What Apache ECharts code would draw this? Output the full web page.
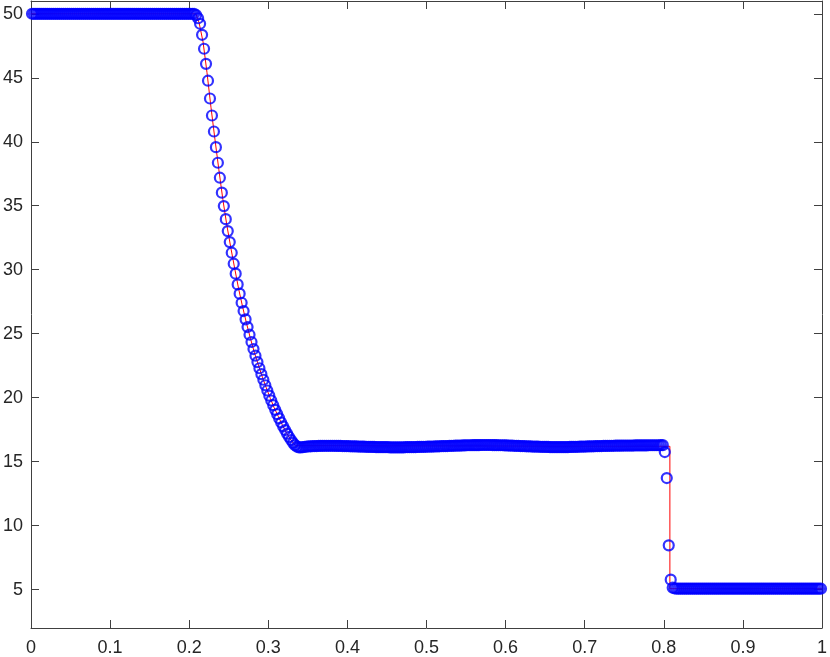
<!DOCTYPE html>
<html>
<head>
<meta charset="utf-8">
<script src="https://cdn.jsdelivr.net/npm/echarts@6/dist/echarts.min.js"></script>
<style>
html,body{margin:0;padding:0;background:#fff;}
#chart{width:830px;height:657px;}
</style>
</head>
<body>
<div id="chart"></div>
<script>
// ---- data ----
const gridCount = 400;          // number of cells (markers)
const xMin = 0, xMax = 1;
const yMin = 2, yMax = 51;
const xTicks = [0, 0.1, 0.2, 0.3, 0.4, 0.5, 0.6, 0.7, 0.8, 0.9, 1];
const yTicks = [5, 10, 15, 20, 25, 30, 35, 40, 45, 50];

// numerical solution (blue circles), one value per cell
const numericValues = [
50,50,50,50,50,50,50,50,50,50,
50,50,50,50,50,50,50,50,50,50,
50,50,50,50,50,50,50,50,50,50,
50,50,50,50,50,50,50,50,50,50,
50,50,50,50,50,50,50,50,50,50,
50,50,50,50,50,50,50,50,50,50,
50,50,50,50,50,50,50,50,50,50,
50,50,50,50,50,50,50,50,50,50,
50,50,50,49.9,49.65,
49.22,48.36,47.27,46.09,44.77,43.38,42.05,40.80,39.58,38.36,
37.19,36.02,34.97,33.95,33.02,32.16,31.33,30.47,29.69,28.85,
28.13,27.42,26.77,26.12,25.52,24.92,
24.35,23.80,23.28,22.78,22.30,21.84,21.40,20.97,20.56,20.16,
19.78,19.41,19.05,18.71,18.38,18.06,17.76,17.47,17.19,16.93,
16.69,16.47,16.29,16.17,
16.12,16.12,16.14,16.16,16.18,16.19,16.20,16.21,16.22,16.22,
16.23,16.23,16.24,16.24,16.24,16.24,16.24,16.24,
16.24,16.23,16.23,16.23,16.22,16.22,16.21,16.21,
16.20,16.20,16.19,16.19,16.18,16.18,16.17,16.17,
16.16,16.16,16.15,16.15,16.15,16.14,16.14,16.14,
16.13,16.13,16.13,16.13,16.12,16.12,16.12,16.12,
16.12,16.12,16.12,16.12,16.13,16.13,16.13,16.13,
16.14,16.14,16.15,16.15,16.15,16.16,16.16,16.17,
16.17,16.18,16.18,16.19,16.19,16.20,16.21,16.21,
16.22,16.22,16.23,16.24,16.24,16.25,16.25,16.26,
16.26,16.27,16.27,16.28,16.28,16.28,16.29,16.29,
16.29,16.29,16.30,16.30,16.30,16.30,16.30,16.30,
16.29,16.29,16.29,16.28,16.28,16.28,16.27,16.27,
16.26,16.26,16.25,16.24,16.24,16.23,16.22,16.22,
16.21,16.20,16.20,16.19,16.18,16.18,16.17,16.17,
16.16,16.16,16.15,16.15,16.15,16.14,16.14,16.14,
16.14,16.14,16.14,16.14,16.14,16.14,16.14,16.15,
16.15,16.15,16.16,16.16,16.17,16.17,16.18,16.18,
16.19,16.19,16.20,16.20,16.21,16.21,16.22,16.22,
16.23,16.23,16.23,16.24,16.24,16.24,16.25,16.25,
16.25,16.25,16.26,16.26,16.26,16.26,16.26,16.26,
16.27,16.27,16.27,16.27,16.27,16.27,16.27,16.28,
16.28,16.28,16.28,16.28,16.28,16.29,16.29,
15.75,13.72,8.46,5.78,5.15,5.09,
5.07,5.07,5.07,5.07,5.07,5.07,5.07,5.07,5.07,5.07,
5.07,5.07,5.07,5.07,5.07,5.07,5.07,5.07,5.07,5.07,
5.07,5.07,5.07,5.07,5.07,5.07,5.07,5.07,5.07,5.07,
5.07,5.07,5.07,5.07,5.07,5.07,5.07,5.07,5.07,5.07,
5.07,5.07,5.07,5.07,5.07,5.07,5.07,5.07,5.07,5.07,
5.07,5.07,5.07,5.07,5.07,5.07,5.07,5.07,5.07,5.07,
5.07,5.07,5.07,5.07,5.07,5.07,5.07,5.07,5.07,5.07,
5.07,5.07,5.07,5.07
];

// reference (exact) solution, red line
const exactX = [0, 0.2085, 0.2125, 0.2175, 0.2225, 0.2275, 0.2325, 0.2375, 0.2425, 0.2475,
  0.2525, 0.2575, 0.2625, 0.2675, 0.2725, 0.2775, 0.2825, 0.2875, 0.2925, 0.2975,
  0.3025, 0.3075, 0.3125, 0.3175, 0.3225, 0.3275, 0.3315, 0.3345, 0.3360, 0.8077, 0.8077, 1];
const exactY = [50, 50, 49.3, 47.8, 45.4, 42.7, 40.2, 37.8, 35.5, 33.5,
  31.75, 30.1, 28.5, 27.1, 25.8, 24.6, 23.5, 22.55, 21.6, 20.75,
  19.95, 19.2, 18.55, 17.9, 17.3, 16.8, 16.45, 16.25, 16.2, 16.2, 5.07, 5.07];

// ---- build series data ----
const numericData = numericValues.map((v, i) => [(i + 0.5) / gridCount, v]);
const exactData = exactX.map((x, i) => [x, exactY[i]]);

const axisColor = '#404040';
const textColor = '#262626';
const fontFamily = '"Liberation Sans", Arial, Helvetica, sans-serif';

const chart = echarts.init(document.getElementById('chart'), null, {renderer: 'canvas'});
const tickStyle = {show: true, inside: true, length: 8, lineStyle: {color: axisColor, width: 1}};
chart.setOption({
  animation: false,
  backgroundColor: '#ffffff',
  grid: {left: 31, right: 5, top: 1, bottom: 29, containLabel: false},
  xAxis: [{
    type: 'value', min: xMin, max: xMax, position: 'bottom',
    axisLine: {show: true, onZero: false, lineStyle: {color: axisColor, width: 1}},
    axisTick: Object.assign({customValues: xTicks}, tickStyle),
    axisLabel: {customValues: xTicks, color: textColor, fontSize: 18, fontFamily: fontFamily, margin: 11,
      formatter: v => String(v)},
    splitLine: {show: false}
  }, {
    type: 'value', min: xMin, max: xMax, position: 'top',
    axisLine: {show: true, onZero: false, lineStyle: {color: axisColor, width: 1}},
    axisTick: Object.assign({customValues: xTicks}, tickStyle),
    axisLabel: {show: false},
    splitLine: {show: false}
  }],
  yAxis: [{
    type: 'value', min: yMin, max: yMax, position: 'left',
    axisLine: {show: true, onZero: false, lineStyle: {color: axisColor, width: 1}},
    axisTick: Object.assign({customValues: yTicks}, tickStyle),
    axisLabel: {customValues: yTicks, color: textColor, fontSize: 18, fontFamily: fontFamily, margin: 8},
    splitLine: {show: false}
  }, {
    type: 'value', min: yMin, max: yMax, position: 'right',
    axisLine: {show: true, onZero: false, lineStyle: {color: axisColor, width: 1}},
    axisTick: Object.assign({customValues: yTicks}, tickStyle),
    axisLabel: {show: false},
    splitLine: {show: false}
  }],
  series: [{
    type: 'line', xAxisIndex: 0, yAxisIndex: 0, data: exactData,
    showSymbol: false, symbol: 'none', silent: true, z: 2,
    lineStyle: {color: '#ff0000', width: 1}
  }, {
    type: 'scatter', xAxisIndex: 0, yAxisIndex: 0, data: numericData,
    symbol: 'circle', symbolSize: 10, silent: true, z: 3,
    itemStyle: {color: 'rgba(0,0,0,0)', borderColor: '#0000ff', borderWidth: 2.2}
  }]
});
</script>
</body>
</html>
